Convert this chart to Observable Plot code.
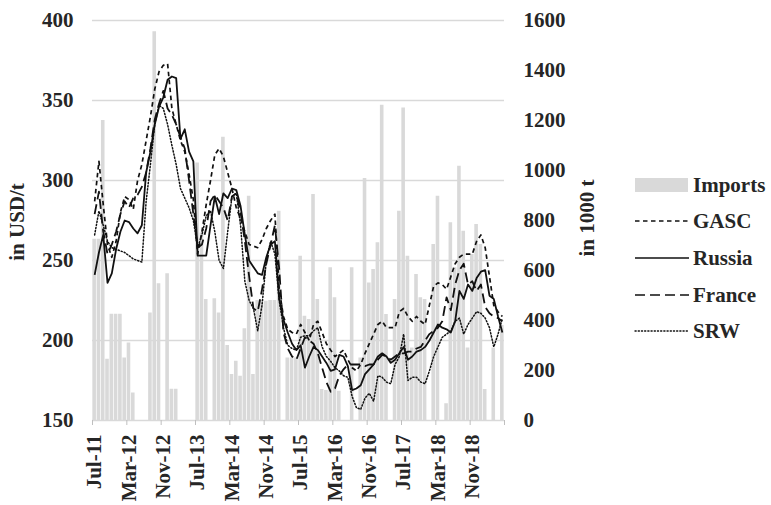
<!DOCTYPE html>
<html><head><meta charset="utf-8">
<script src="https://cdn.jsdelivr.net/npm/d3@7"></script>
<script src="https://cdn.jsdelivr.net/npm/@observablehq/plot@0.6"></script>
<style>body{margin:0;background:#fff;} #chart{width:771px;height:505px;}</style>
</head><body><div id="chart"></div>
<script>
const tickLabels = ["Jul-11","Mar-12","Nov-12","Jul-13","Mar-14","Nov-14","Jul-15","Mar-16","Nov-16","Jul-17","Mar-18","Nov-18"];
const leftTicks = [150,200,250,300,350,400];
const rightTicks = [0,200,400,600,800,1000,1200,1400,1600];
const seriesNames = ["Imports","GASC","Russia","France","SRW"];

const imports = [725,725,1200,245,425,425,425,250,310,110,
0,0,0,430,1555,547,0,587,125,125,
0,0,0,0,1030,750,484,0,487,430,
1133,300,184,237,177,367,897,184,480,480,
477,480,480,837,0,250,250,250,657,417,
404,904,484,124,120,611,491,117,0,0,
611,0,250,968,550,604,711,1261,424,0,
484,837,1250,657,290,584,491,484,0,704,
897,0,67,791,611,1017,757,290,664,784,
704,124,0,290,0,380];
const gasc = [287,312,285,260,252,262,280,290,288,282,
300,310,325,340,357,368,372,373,345,335,
325,318,304,288,254,268,285,300,316,320,
315,305,295,283,276,268,260,259,258,263,
270,275,279,232,215,207,205,204,210,205,
200,210,212,205,198,194,190,192,194,188,
183,181,185,192,198,204,210,212,208,208,
208,218,220,215,212,215,212,210,222,234,
236,235,232,240,248,252,254,254,254,262,
266,258,240,222,218,215];
const russia = [241,255,266,236,242,257,268,275,274,270,
267,272,305,318,335,346,352,363,365,364,
326,332,318,312,253,253,253,272,290,279,
292,289,295,294,284,266,250,246,242,241,
252,260,262,226,213,205,198,194,197,183,
190,196,194,190,186,181,182,191,190,184,
169,170,172,179,182,185,190,192,190,186,
188,192,196,188,190,193,194,196,200,205,
210,208,207,205,212,231,226,235,231,239,
243,244,228,226,215,205];
const france = [279,293,268,254,260,268,279,287,283,289,
291,296,305,320,338,348,356,345,341,335,
327,320,300,279,258,260,270,287,291,287,
283,275,290,292,280,262,240,220,218,232,
248,260,272,245,205,195,190,188,195,202,
200,198,192,183,174,168,170,178,182,185,
185,185,185,184,185,185,188,191,190,188,
190,192,192,193,193,195,196,200,204,206,
208,212,227,219,235,244,248,235,237,231,
235,221,217,215,214,212];
const srw = [266,281,272,262,258,257,256,255,253,251,
250,249,287,310,335,347,345,335,322,310,
295,289,283,275,258,266,278,281,268,250,
245,268,290,292,272,237,225,220,206,222,
250,262,254,225,208,197,195,194,202,203,
203,206,208,196,190,187,183,181,178,177,
165,158,157,164,167,162,178,177,174,173,
185,190,204,175,177,177,174,173,181,190,
196,202,204,206,212,214,204,210,214,218,
217,214,208,196,204,214];

const data = imports.map((v, i) => ({i, imports: v, gasc: gasc[i], russia: russia[i], france: france[i], srw: srw[i]}));
const yMin = 150, yMax = 400, impMax = 1600;
const toLeft = v => yMin + v * (yMax - yMin) / impMax;
const fromLeft = p => String(Math.round((p - yMin) * impMax / (yMax - yMin)));
const grid = "#d9d9d9";
const FONT = "'Liberation Serif', 'Times New Roman', serif";

const lineStyles = [
  {key: "gasc", dash: "4.5,3.5", w: 1.7},
  {key: "russia", dash: null, w: 1.8},
  {key: "france", dash: "10,5", w: 1.8},
  {key: "srw", dash: "1.2,2", w: 1.5}
];

const plot = Plot.plot({
  width: 771, height: 505,
  marginLeft: 92, marginRight: 267, marginTop: 20, marginBottom: 85,
  x: {domain: [0, 96]},
  y: {domain: [yMin, yMax]},
  style: {fontFamily: FONT, fontSize: "21px", fontWeight: "bold", color: "#262626", background: "#fff"},
  marks: [
    Plot.gridY(leftTicks, {stroke: grid, strokeOpacity: 1, strokeWidth: 1.3}),
    Plot.rect(data, {x1: d => d.i, x2: d => d.i + 1, y1: yMin, y2: d => toLeft(d.imports), fill: "#d9d9d9", insetLeft: 0.35, insetRight: 0.35}),
    ...lineStyles.map(s => Plot.line(data, {x: d => d.i + 0.5, y: s.key, stroke: "#111", strokeWidth: s.w, strokeDasharray: s.dash ?? undefined, strokeLinecap: s.key === "srw" ? "round" : "butt"})),
    Plot.axisY(leftTicks, {tickSize: 0, tickPadding: 19, label: null}),
    Plot.axisY(rightTicks.map(toLeft), {anchor: "right", tickSize: 0, tickPadding: 19, label: null, tickFormat: fromLeft}),
    Plot.axisX(d3.range(0, 97, 8), {tickSize: 5, stroke: "#bfbfbf", tickFormat: () => "", label: null}),
    Plot.axisX(d3.range(0, 96, 8).map(i => i + 0.5), {tickSize: 0, tickPadding: 14, tickRotate: -90, label: null, tickFormat: d => tickLabels[Math.floor(d / 8)]})
  ]
});
document.getElementById("chart").appendChild(plot);

const svg = d3.select(plot);
// axis titles
svg.append("text").attr("transform", "translate(24,222) rotate(-90)").attr("text-anchor", "middle")
  .style("font-family", FONT).style("font-size", "21px").style("font-weight", "bold").attr("fill", "#262626").text("in USD/t");
svg.append("text").attr("transform", "translate(594,218) rotate(-90)").attr("text-anchor", "middle")
  .style("font-family", FONT).style("font-size", "21px").style("font-weight", "bold").attr("fill", "#262626").text("in 1000 t");
// legend
const lg = svg.append("g").style("font-family", FONT).style("font-size", "21px").style("font-weight", "bold");
const rows = [185, 221, 258, 295, 331];
lg.append("rect").attr("x", 635).attr("y", rows[0] - 7).attr("width", 53).attr("height", 14).attr("fill", "#d9d9d9");
lineStyles.forEach((s, k) => {
  lg.append("line").attr("x1", 635).attr("x2", 689).attr("y1", rows[k + 1]).attr("y2", rows[k + 1])
    .attr("stroke", "#111").attr("stroke-width", s.key === "srw" ? 1.3 : 1.6)
    .attr("stroke-dasharray", s.dash).attr("stroke-linecap", s.key === "srw" ? "round" : "butt");
});
seriesNames.forEach((n, k) => {
  lg.append("text").attr("x", 693).attr("y", rows[k] + 7).attr("text-anchor", "start").attr("fill", "#262626").text(n);
});
</script></body></html>
